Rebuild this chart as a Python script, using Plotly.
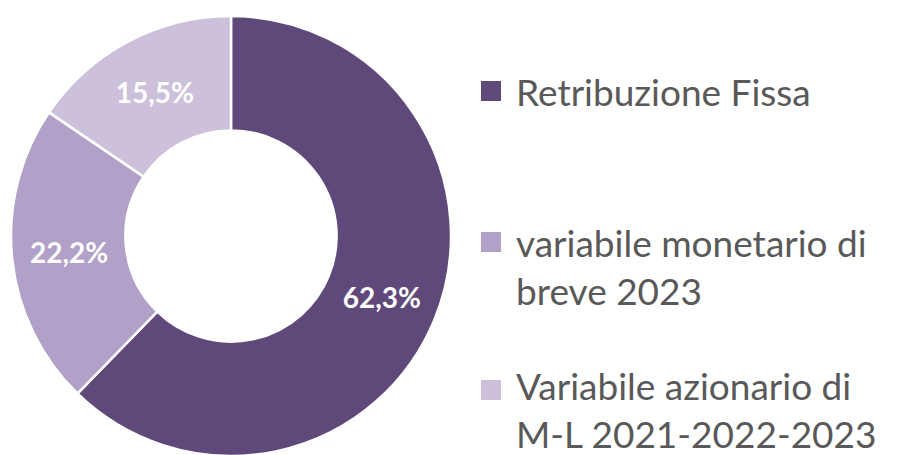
import plotly.graph_objects as go

labels = ["Retribuzione Fissa", "variabile monetario di breve 2023", "Variabile azionario di M-L 2021-2022-2023"]
legend_text = ["Retribuzione Fissa", "variabile monetario di<br>breve 2023", "Variabile azionario di<br>M-L 2021-2022-2023"]
values = [62.3, 22.2, 15.5]
colors = ["#5F497A", "#B1A0C7", "#CCC0DA"]

W, H = 898, 455

fig = go.Figure(go.Pie(
    labels=labels,
    values=values,
    hole=0.48,
    sort=False,
    direction="clockwise",
    rotation=0,
    marker=dict(colors=colors, line=dict(color="white", width=2.5)),
    texttemplate="%{value:.1f}%",
    textposition="inside",
    insidetextorientation="horizontal",
    textfont=dict(family="Lato", size=28, color="white", weight="bold"),
    domain=dict(x=[3 / W, 443 / W], y=[1 - 448 / H, 1 - 8 / H]),
    hoverinfo="label+percent",
    showlegend=False,
))

# manual legend (figure-pixel positions)
marker_top = [73, 224, 372]
text_mid = [83, 258, 401]
for lab, col, mt, tm in zip(legend_text, colors, marker_top, text_mid):
    fig.add_shape(type="rect", xref="paper", yref="paper",
                  x0=473 / W, x1=493 / W, y0=1 - mt / H, y1=1 - (mt + 20) / H,
                  fillcolor=col, line=dict(width=0))
    fig.add_annotation(xref="paper", yref="paper", x=506 / W, y=1 - tm / H,
                       xanchor="left", yanchor="middle", align="left",
                       text=lab, showarrow=False,
                       font=dict(family="Lato", size=37, color="#595959"))

fig.update_layout(
    width=W, height=H,
    margin=dict(l=0, r=0, t=0, b=0),
    separators=",.",
    paper_bgcolor="white",
    plot_bgcolor="white",
)

fig.write_html("out.html")
